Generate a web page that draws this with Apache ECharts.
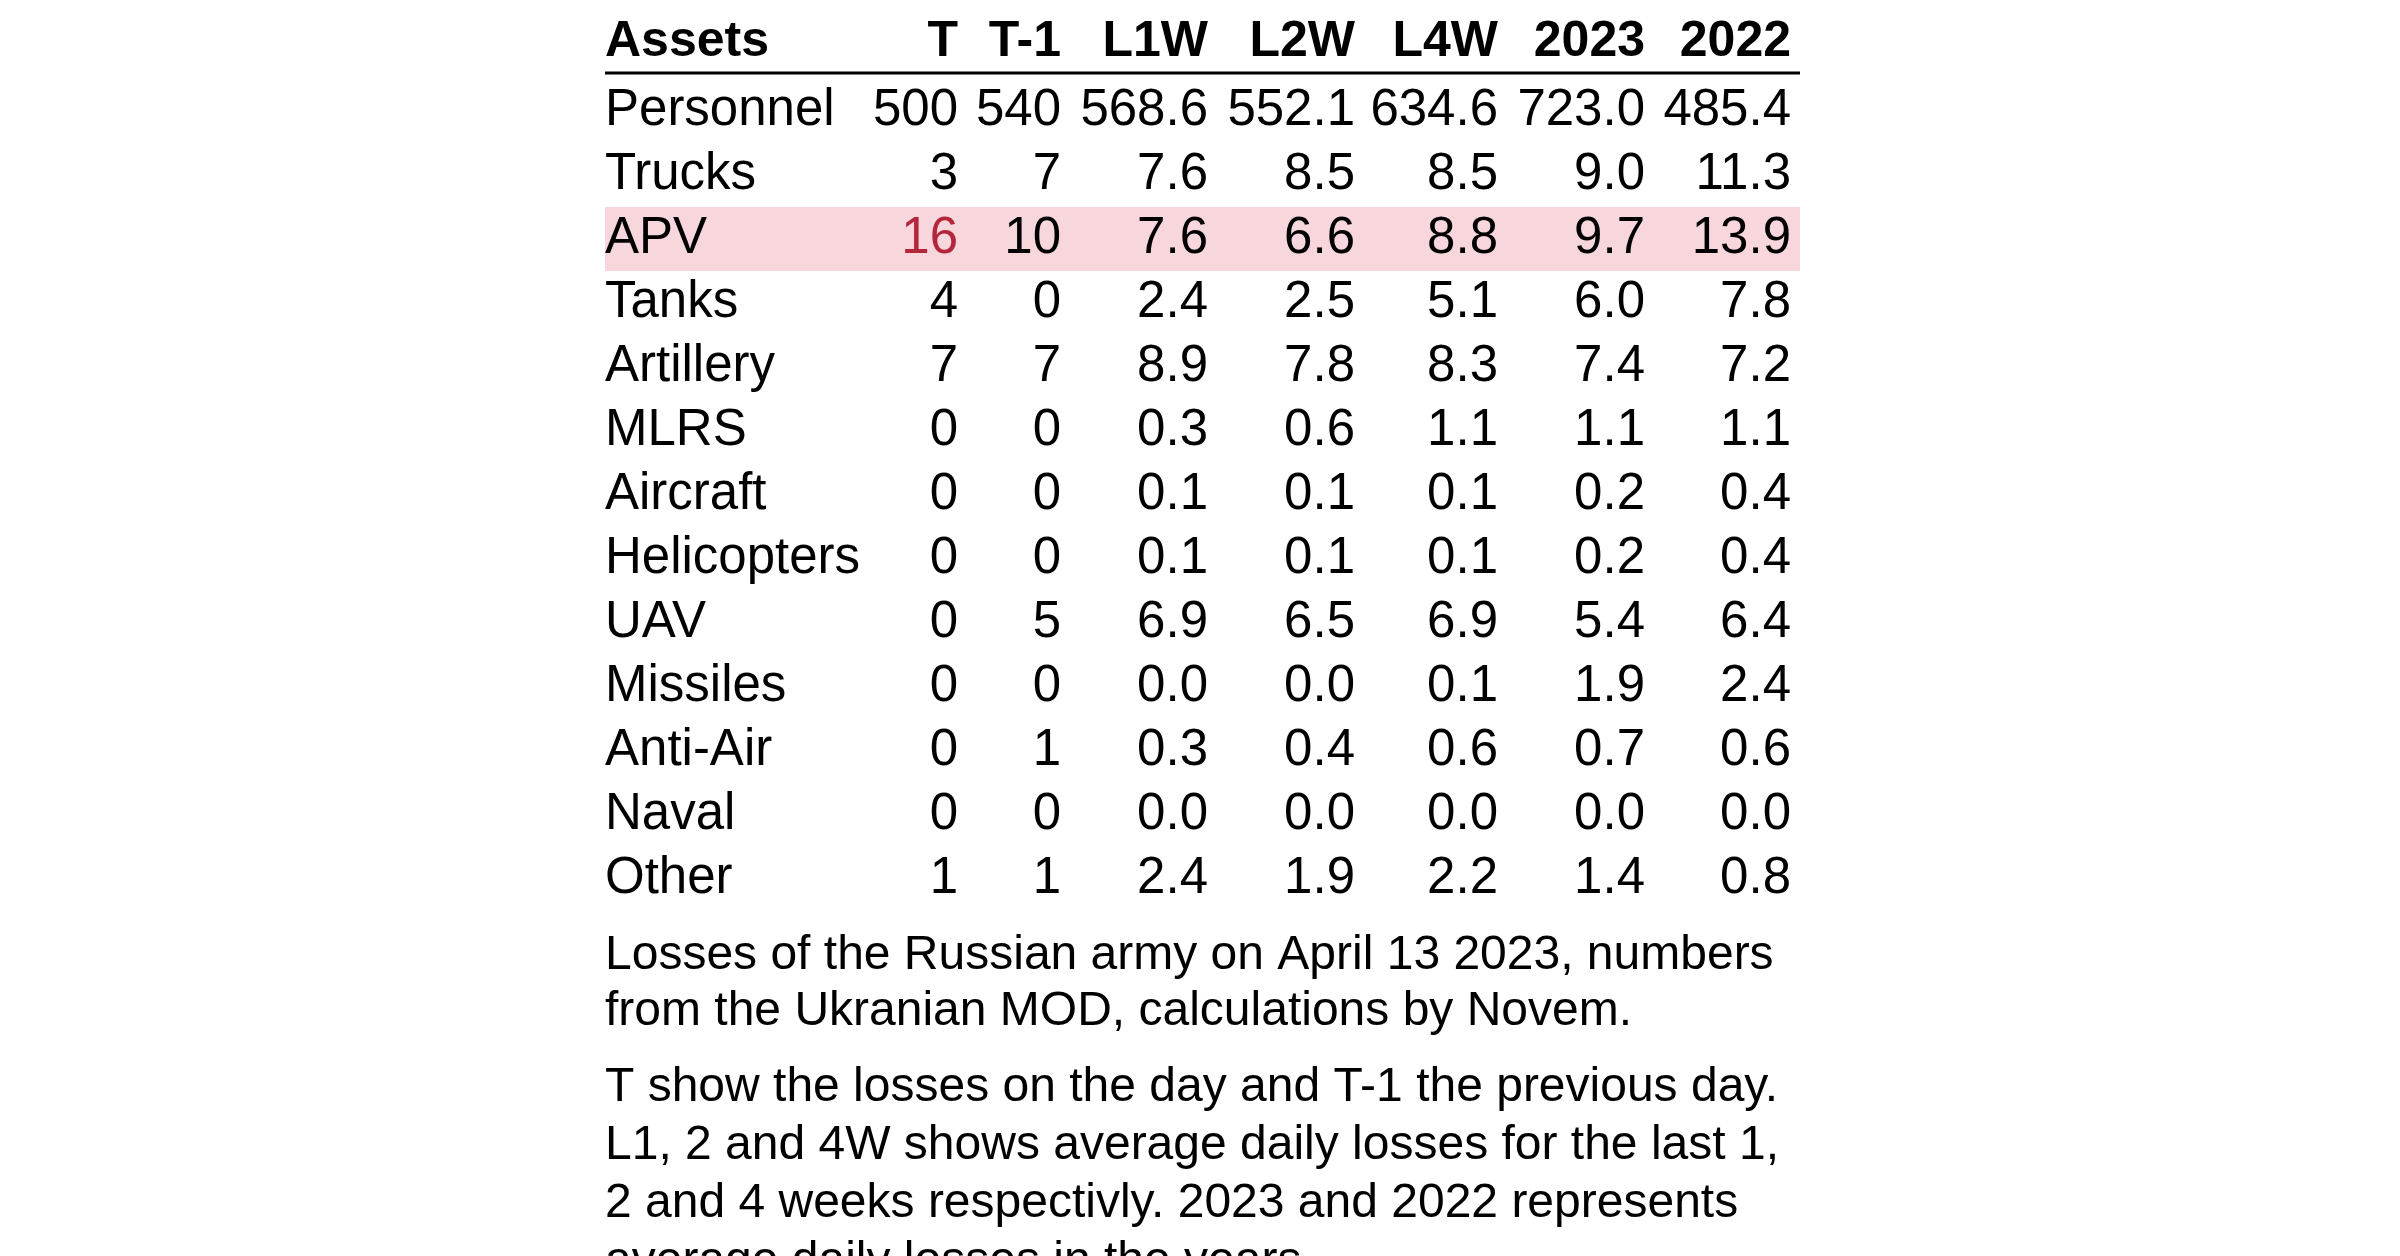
<!DOCTYPE html>
<html>
<head>
<meta charset="utf-8">
<script src="https://cdn.jsdelivr.net/npm/echarts@6/dist/echarts.min.js"></script>
<style>html,body{margin:0;background:#fff}#main{width:2400px;height:1256px}</style>
</head>
<body>
<div id="main"></div>
<script>
// table content
var columns = ['T', 'T-1', 'L1W', 'L2W', 'L4W', '2023', '2022'];
var assets = ['Personnel', 'Trucks', 'APV', 'Tanks', 'Artillery', 'MLRS', 'Aircraft',
	'Helicopters', 'UAV', 'Missiles', 'Anti-Air', 'Naval', 'Other'];
var valT = ['500', '3', '16', '4', '7', '0', '0', '0', '0', '0', '0', '0', '1'];
var valT1 = ['540', '7', '10', '0', '7', '0', '0', '0', '5', '0', '1', '0', '1'];
var valL1W = ['568.6', '7.6', '7.6', '2.4', '8.9', '0.3', '0.1', '0.1', '6.9', '0.0', '0.3', '0.0', '2.4'];
var valL2W = ['552.1', '8.5', '6.6', '2.5', '7.8', '0.6', '0.1', '0.1', '6.5', '0.0', '0.4', '0.0', '1.9'];
var valL4W = ['634.6', '8.5', '8.8', '5.1', '8.3', '1.1', '0.1', '0.1', '6.9', '0.1', '0.6', '0.0', '2.2'];
var val2023 = ['723.0', '9.0', '9.7', '6.0', '7.4', '1.1', '0.2', '0.2', '5.4', '1.9', '0.7', '0.0', '1.4'];
var val2022 = ['485.4', '11.3', '13.9', '7.8', '7.2', '1.1', '0.4', '0.4', '6.4', '2.4', '0.6', '0.0', '0.8'];
var highlightRow = 'APV';
var highlightCell = [0, 'APV']; // column T, row APV
var captionA = ['Losses of the Russian army on April 13 2023, numbers',
	'from the Ukranian MOD, calculations by Novem.'];
var captionB = ['T show the losses on the day and T-1 the previous day.',
	'L1, 2 and 4W shows average daily losses for the last 1,',
	'2 and 4 weeks respectivly. 2023 and 2022 represents',
	'average daily losses in the years.'];

var colValues = [valT, valT1, valL1W, valL2W, valL4W, val2023, val2022];
// layout: right edge of each column, left edge of the label column
var colRight = [958, 1061, 1208, 1355, 1498, 1645, 1791];
var labelLeft = 605;
var tableRight = 1800;
var FONT = '"Liberation Sans", Arial, sans-serif';

var cells = [];
assets.forEach(function(a, r) {
	cells.push([labelLeft, r, a, 'left', 0]);
	colValues.forEach(function(vals, c) {
		var red = (c === highlightCell[0] && a === highlightCell[1]) ? 1 : 0;
		cells.push([colRight[c], r, vals[r], 'right', red]);
	});
});

var chart = echarts.init(document.getElementById('main'));
var graphics = [];
graphics.push({ type: 'text', x: labelLeft, y: 42,
	style: { text: 'Assets', font: 'bold 50px ' + FONT, fill: '#000', verticalAlign: 'middle' } });
columns.forEach(function(c, i) {
	graphics.push({ type: 'text', x: colRight[i], y: 42,
		style: { text: c, font: 'bold 50px ' + FONT, fill: '#000', align: 'right', verticalAlign: 'middle' } });
});
graphics.push({ type: 'line', shape: { x1: labelLeft, y1: 73, x2: tableRight, y2: 73 },
	style: { stroke: '#000', lineWidth: 3 } });
captionA.forEach(function(t, i) {
	graphics.push({ type: 'text', x: labelLeft, y: 956 + i * 56,
		style: { text: t, font: '48px ' + FONT, fill: '#000', verticalAlign: 'middle' } });
});
captionB.forEach(function(t, i) {
	graphics.push({ type: 'text', x: labelLeft, y: 1088 + i * 58,
		style: { text: t, font: '48px ' + FONT, fill: '#000', verticalAlign: 'middle' } });
});

chart.setOption({
	animation: false,
	grid: { left: 0, right: 0, top: 79, bottom: 345 },
	xAxis: { type: 'value', min: 0, max: 2400, show: false },
	yAxis: { type: 'category', data: assets, inverse: true, show: false },
	graphic: graphics,
	series: [{
		type: 'custom',
		data: [[labelLeft, assets.indexOf(highlightRow)]],
		renderItem: function(params, api) {
			var p = api.coord([labelLeft, api.value(1)]);
			var h = api.size([0, 1])[1];
			return { type: 'rect', shape: { x: p[0], y: p[1] - h / 2, width: tableRight - labelLeft, height: h },
				style: { fill: '#f7d6dc' } };
		}
	}, {
		type: 'custom',
		data: cells,
		renderItem: function(params, api) {
			var d = cells[params.dataIndex];
			var p = api.coord([d[0], d[1]]);
			return { type: 'text', x: p[0], y: p[1],
				style: { text: d[2], font: '51px ' + FONT, fill: d[4] ? '#b3263c' : '#000',
					align: d[3], verticalAlign: 'middle' } };
		}
	}]
});
</script>
</body>
</html>
